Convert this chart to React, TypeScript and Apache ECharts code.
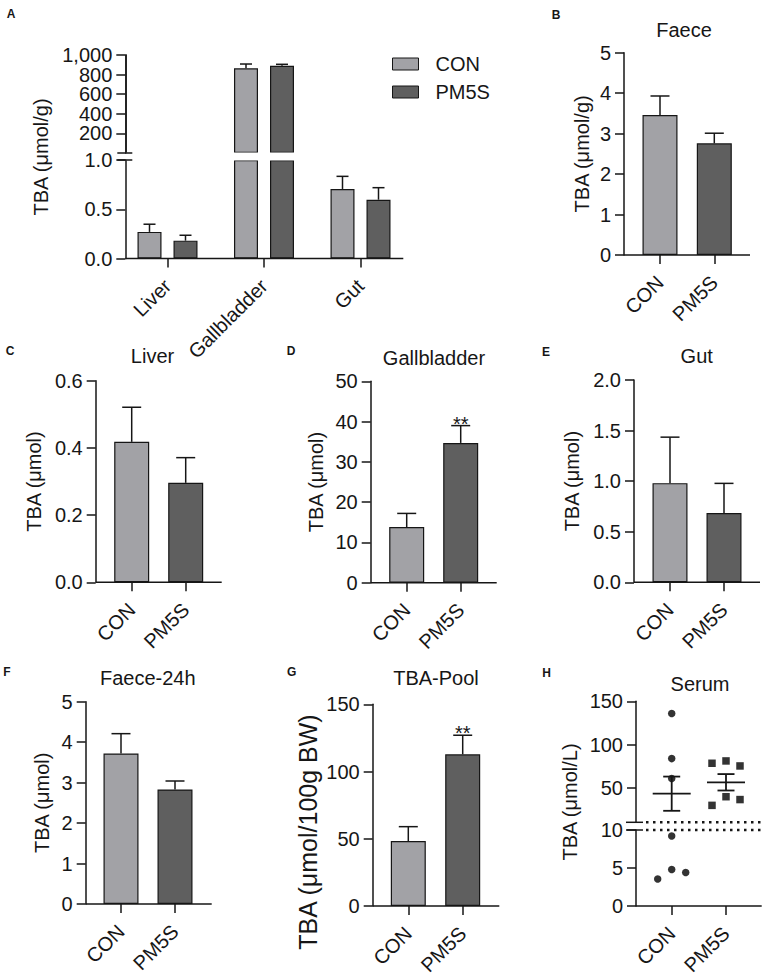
import React, { useEffect, useRef } from 'react';
import * as echarts from 'echarts';

// ---------- data ----------
const GROUPS = ['CON', 'PM5S'];

// A: TBA (μmol/g) by organ
const A_ORGANS = ['Liver', 'Gallbladder', 'Gut'];
const A_CON_MEAN = [0.27, 864, 0.706];
const A_CON_SEM = [0.078, 44, 0.128];
const A_PM5S_MEAN = [0.181, 891, 0.597];
const A_PM5S_SEM = [0.055, 14, 0.122];
const A_UPPER_TICKS_ODD = [200, 600, 1000];
const A_UPPER_TICKS_EVEN = [400, 800];
const A_LOWER_TICKS = [0, 0.5, 1.0];
const A_LOWER_MAX = 1;

// B: Faece
const B_MEAN = [3.46, 2.76];
const B_SEM = [0.47, 0.25];
const B_TICKS = [0, 1, 2, 3, 4, 5];
// C: Liver
const C_MEAN = [0.418, 0.296];
const C_SEM = [0.103, 0.075];
const C_TICKS = [0, 0.2, 0.4, 0.6];
// D: Gallbladder
const D_MEAN = [13.8, 34.7];
const D_SEM = [3.4, 4.3];
const D_SIG = ['', '**'];
const D_TICKS = [0, 10, 20, 30, 40, 50];
// E: Gut
const E_MEAN = [0.98, 0.685];
const E_SEM = [0.455, 0.293];
const E_TICKS = [0, 0.5, 1.0, 1.5, 2.0];
// F: Faece-24h
const F_MEAN = [3.72, 2.83];
const F_SEM = [0.49, 0.21];
const F_TICKS = [0, 1, 2, 3, 4, 5];
// G: TBA-Pool
const G_MEAN = [48.3, 112.8];
const G_SEM = [10.7, 14.2];
const G_SIG = ['', '**'];
const G_TICKS = [0, 50, 100, 150];
// H: Serum (individual points, mean ± SEM)
const H_CON = [135.8, 83.7, 60.6, 9.2, 4.8, 3.55, 4.4];
const H_PM5S = [78.3, 81, 75.2, 29.6, 39.6, 36.3];
const H_MEAN = [43.1, 56.3];
const H_SEM = [19.8, 9.5];
const H_UPPER_TICKS = [50, 100, 150];
const H_LOWER_TICKS = [0, 5, 10];
const H_BREAK = 10;

// ---------- style ----------
const FONT = "'Liberation Sans', Arial, Helvetica, sans-serif";
const INK = '#161616';
const CON_COLOR = '#a2a2a6';
const PM_COLOR = '#5f5f5f';
const GROUP_COLORS = [CON_COLOR, PM_COLOR];
const AXIS_W = 1.5;
const FS = 20;

function buildOption() {
  const grid: any[] = [];
  const xAxis: any[] = [];
  const yAxis: any[] = [];
  const series: any[] = [];
  const graphic: any[] = [];
  const axisLineStyle = { color: INK, width: AXIS_W };
  const labelStyle = { fontSize: FS, color: INK, fontFamily: FONT };

  const addGrid = (left: number, right: number, top: number, bottom: number) => {
    grid.push({ left, top, width: right - left, height: bottom - top });
    return grid.length - 1;
  };
  const addXAxis = (gi: number, cats: string[], show: boolean) => {
    xAxis.push({
      type: 'category', gridIndex: gi, data: cats, boundaryGap: false, position: 'bottom',
      axisLine: { show: false },
      axisTick: show ? { show: true, length: 9, interval: 0, lineStyle: axisLineStyle } : { show: false },
      axisLabel: show ? { show: true, interval: 0, rotate: 45, margin: 24, ...labelStyle } : { show: false },
      splitLine: { show: false },
    });
    return xAxis.length - 1;
  };
  const addYAxis = (gi: number, min: number, max: number, ticks: number[], fmt: (v: number) => string,
    offset: number, name?: string, nameGap?: number) => {
    yAxis.push({
      type: 'value', gridIndex: gi, min, max, offset, position: 'left',
      axisLine: { show: true, onZero: false, lineStyle: axisLineStyle },
      axisTick: { show: true, length: 9, lineStyle: axisLineStyle, customValues: ticks },
      axisLabel: {
        show: true, margin: 13, formatter: fmt, customValues: ticks,
        showMinLabel: true, showMaxLabel: true, hideOverlap: false, ...labelStyle,
      },
      splitLine: { show: false },
      name, nameLocation: 'middle', nameGap, nameTextStyle: { ...labelStyle },
    });
    return yAxis.length - 1;
  };
  const line = (x1: number, y1: number, x2: number, y2: number, extra: any = {}) => ({
    type: 'line', silent: true, z: 50, shape: { x1, y1, x2, y2 },
    style: { stroke: INK, lineWidth: AXIS_W, ...extra },
  });
  const text = (t: string, x: number, y: number, size: number, bold = false, rotation = 0) => ({
    type: 'text', silent: true, z: 50, x, y, rotation,
    style: {
      text: t, fontSize: size, fontFamily: FONT, fontWeight: bold ? 'bold' : 'normal', fill: INK,
      align: 'center', verticalAlign: 'middle', textAlign: 'center', textVerticalAlign: 'middle',
    },
  });
  const errorSeries = (xi: number, yi: number, rows: number[][], offsetPx: number, cap: number, sig?: string[]) => ({
    type: 'custom', xAxisIndex: xi, yAxisIndex: yi, z: 3, clip: false,
    data: rows,
    renderItem: (params: any, api: any) => {
      const i = api.value(0);
      const p0 = api.coord([i, api.value(1)]);
      const p1 = api.coord([i, api.value(2)]);
      const x = p0[0] + offsetPx;
      const children: any[] = [
        { type: 'line', shape: { x1: x, y1: p0[1], x2: x, y2: p1[1] }, style: { stroke: INK, lineWidth: 1.5 } },
        { type: 'line', shape: { x1: x - cap / 2, y1: p1[1], x2: x + cap / 2, y2: p1[1] }, style: { stroke: INK, lineWidth: 1.5 } },
      ];
      const idx = rows[params.dataIndex][3];
      const s = sig ? sig[idx] : '';
      if (s) {
        children.push({
          type: 'text', x, y: p1[1] - 2,
          style: { text: s, fontSize: FS, fontFamily: FONT, fill: INK, align: 'center', verticalAlign: 'middle', textAlign: 'center', textVerticalAlign: 'middle' },
        });
      }
      return { type: 'group', children };
    },
  });

  // ---------- simple two-bar panels ----------
  const barPanel = (p: any) => {
    const gi = addGrid(p.c1, p.c2, p.yTop, p.yBot);
    const xi = addXAxis(gi, GROUPS, true);
    const yName = 'TBA (μmol' + p.unit + ')';
    const yi = addYAxis(gi, p.ticks[0], p.ticks[p.ticks.length - 1], p.ticks, p.fmt, p.c1 - p.x0,
      p.nameAt ? undefined : yName, p.nameGap);
    if (p.nameAt) graphic.push(text(yName, p.nameAt[0], p.nameAt[1], p.nameAt[2], false, Math.PI / 2));
    series.push({
      type: 'bar', name: p.title, xAxisIndex: xi, yAxisIndex: yi, barWidth: 35, clip: false, z: 2,
      itemStyle: { borderColor: INK, borderWidth: 1.2 },
      data: p.mean.map((v: number, i: number) => ({ value: v, itemStyle: { color: GROUP_COLORS[i] } })),
    });
    series.push(errorSeries(xi, yi, p.mean.map((m: number, i: number) => [i, m, m + p.sem[i], i]), 0, 19, p.sig));
    graphic.push(line(p.x0, p.yBot, p.xEnd, p.yBot));
    graphic.push(text(p.title, p.tx, p.ty, FS));
    graphic.push(text(p.letter, p.lx, p.ly, 12, true));
  };
  const f1 = (v: number) => v.toFixed(1);
  const f0 = (v: number) => String(v);
  const fThousands = (v: number) => v.toLocaleString('en-US');

  barPanel({ x0: 624, c1: 660, c2: 714.3, xEnd: 750, yTop: 52.7, yBot: 255, ticks: B_TICKS, fmt: f0, unit: '/g', nameGap: 32,
    mean: B_MEAN, sem: B_SEM, title: 'Faece', tx: 684, ty: 30, letter: 'B', lx: 556, ly: 15 });
  barPanel({ x0: 95.7, c1: 131.7, c2: 185.7, xEnd: 221.7, yTop: 380.7, yBot: 582.3, ticks: C_TICKS, fmt: f1, unit: '', nameGap: 52,
    mean: C_MEAN, sem: C_SEM, title: 'Liver', tx: 152.5, ty: 356, letter: 'C', lx: 10, ly: 351 });
  barPanel({ x0: 370.7, c1: 406.7, c2: 460.7, xEnd: 496.7, yTop: 381.3, yBot: 582.7, ticks: D_TICKS, fmt: f0, unit: '', nameGap: 45,
    mean: D_MEAN, sem: D_SEM, sig: D_SIG, title: 'Gallbladder', tx: 434, ty: 357.7, letter: 'D', lx: 291, ly: 351 });
  barPanel({ x0: 634, c1: 670, c2: 724, xEnd: 760, yTop: 380, yBot: 582.3, ticks: E_TICKS, fmt: f1, unit: '', nameGap: 52,
    mean: E_MEAN, sem: E_SEM, title: 'Gut', tx: 696.7, ty: 355.7, letter: 'E', lx: 546, ly: 351.7 });
  barPanel({ x0: 85.7, c1: 121, c2: 175, xEnd: 211.7, yTop: 701.7, yBot: 904, ticks: F_TICKS, fmt: f0, unit: '', nameGap: 34,
    mean: F_MEAN, sem: F_SEM, title: 'Faece-24h', tx: 147.8, ty: 678.3, letter: 'F', lx: 7, ly: 672 });
  barPanel({ x0: 372.7, c1: 408.3, c2: 462.7, xEnd: 499.3, yTop: 704.3, yBot: 906, ticks: G_TICKS, fmt: f0, unit: '/100g BW',
    nameAt: [307.5, 832, 25],
    mean: G_MEAN, sem: G_SEM, sig: G_SIG, title: 'TBA-Pool', tx: 436, ty: 678.3, letter: 'G', lx: 291.7, ly: 671.7 });

  // ---------- panel A (broken axis, grouped bars) ----------
  {
    const x0 = 125.3, c1 = 167.5, c2 = 360.5, xEnd = 403.3;
    const uTop = 55, uBot = 153, lTop = 160, lBot = 258.5;
    const BW = 24;
    const off = (BW + BW * 0.5) / 2;
    const gU = addGrid(c1, c2, uTop, uBot);
    const xU = addXAxis(gU, A_ORGANS, false);
    const yU = addYAxis(gU, 0, 1000, A_UPPER_TICKS_ODD, fThousands, c1 - x0);
    addYAxis(gU, 0, 1000, A_UPPER_TICKS_EVEN, fThousands, c1 - x0);
    const gL = addGrid(c1, c2, lTop, lBot);
    const xL = addXAxis(gL, A_ORGANS, true);
    const yL = addYAxis(gL, 0, A_LOWER_MAX, A_LOWER_TICKS, f1, c1 - x0);
    const groups = [
      { name: 'CON', mean: A_CON_MEAN, sem: A_CON_SEM, color: CON_COLOR, sign: -1 },
      { name: 'PM5S', mean: A_PM5S_MEAN, sem: A_PM5S_SEM, color: PM_COLOR, sign: 1 },
    ];
    groups.forEach((g) => {
      series.push({
        type: 'bar', name: g.name, xAxisIndex: xL, yAxisIndex: yL, barWidth: BW, barGap: '50%', clip: false, z: 2,
        itemStyle: { color: g.color, borderColor: INK, borderWidth: 1.2 },
        data: g.mean.map((v) => Math.min(v, A_LOWER_MAX)),
      });
      series.push({
        type: 'bar', name: g.name, xAxisIndex: xU, yAxisIndex: yU, barWidth: BW, barGap: '50%', clip: false, z: 2,
        itemStyle: { color: g.color, borderColor: INK, borderWidth: 1.2 },
        data: g.mean.map((v) => (v > A_LOWER_MAX ? v : '-')),
      });
    });
    groups.forEach((g) => {
      const rows = g.mean.map((m, i) => [i, m, m + g.sem[i], i]);
      series.push(errorSeries(xL, yL, rows.filter((r) => r[1] <= A_LOWER_MAX), g.sign * off, 12));
      series.push(errorSeries(xU, yU, rows.filter((r) => r[1] > A_LOWER_MAX), g.sign * off, 12));
    });
    // break band and marks
    graphic.push({ type: 'rect', silent: true, z: 40, shape: { x: x0 + 1, y: uBot - 0.6, width: xEnd - x0, height: lTop - uBot + 1.2 }, style: { fill: '#fff' } });
    graphic.push(line(x0 - 8, uBot, x0 + 7, uBot));
    graphic.push(line(x0 - 8, lTop, x0 + 7, lTop));
    graphic.push(line(x0, lBot, xEnd, lBot));
    graphic.push(text('TBA (μmol/g)', 41, 157, FS, false, Math.PI / 2));
    graphic.push(text('A', 11, 14, 12, true));
  }

  // ---------- panel H (broken axis, scatter) ----------
  {
    const x0 = 636, c1 = 671.7, c2 = 726, xEnd = 761.7;
    const uTop = 701.3, uBot = 822.3, lTop = 830, lBot = 906;
    const gU = addGrid(c1, c2, uTop, uBot);
    const xU = addXAxis(gU, GROUPS, false);
    const yU = addYAxis(gU, H_BREAK, 150, H_UPPER_TICKS, f0, c1 - x0);
    const gL = addGrid(c1, c2, lTop, lBot);
    const xL = addXAxis(gL, GROUPS, true);
    const yL = addYAxis(gL, 0, H_BREAK, H_LOWER_TICKS, f0, c1 - x0);
    const jitterCon = [0, 0, 0, 0, 0, -14, 14];
    const jitterPm = [-14, 0, 14, -14, 0, 14];
    const pts = (vals: number[], gi: number, jit: number[], upper: boolean) =>
      vals
        .map((v, k) => ({ value: [gi, v], symbolOffset: [jit[k], 0] }))
        .filter((d) => (upper ? d.value[1] >= H_BREAK : d.value[1] < H_BREAK));
    [true, false].forEach((upper) => {
      const xi = upper ? xU : xL;
      const yi = upper ? yU : yL;
      series.push({ type: 'scatter', xAxisIndex: xi, yAxisIndex: yi, clip: false, symbol: 'circle', symbolSize: 7.5, z: 4,
        itemStyle: { color: '#000' }, data: pts(H_CON, 0, jitterCon, upper) });
      series.push({ type: 'scatter', xAxisIndex: xi, yAxisIndex: yi, clip: false, symbol: 'rect', symbolSize: 7.5, z: 4,
        itemStyle: { color: '#000' }, data: pts(H_PM5S, 1, jitterPm, upper) });
    });
    series.push({
      type: 'custom', xAxisIndex: xU, yAxisIndex: yU, z: 5, clip: false,
      data: H_MEAN.map((m, i) => [i, m, m - H_SEM[i], m + H_SEM[i]]),
      renderItem: (_p: any, api: any) => {
        const i = api.value(0);
        const pm = api.coord([i, api.value(1)]);
        const plo = api.coord([i, api.value(2)]);
        const phi = api.coord([i, api.value(3)]);
        const x = pm[0];
        const st = { stroke: INK, lineWidth: 1.8 };
        return {
          type: 'group', children: [
            { type: 'line', shape: { x1: x - 19, y1: pm[1], x2: x + 19, y2: pm[1] }, style: st },
            { type: 'line', shape: { x1: x, y1: plo[1], x2: x, y2: phi[1] }, style: st },
            { type: 'line', shape: { x1: x - 8.5, y1: plo[1], x2: x + 8.5, y2: plo[1] }, style: st },
            { type: 'line', shape: { x1: x - 8.5, y1: phi[1], x2: x + 8.5, y2: phi[1] }, style: st },
          ],
        };
      },
    });
    graphic.push(line(x0, lBot, xEnd, lBot));
    graphic.push(line(x0 - 10, uBot, x0 + 7, uBot));
    graphic.push(line(x0 - 10, lTop, x0 + 7, lTop));
    graphic.push(line(x0 + 10, uBot, xEnd, uBot, { lineDash: [2.5, 4.5], lineWidth: 2.5 }));
    graphic.push(line(x0 + 10, lTop, xEnd, lTop, { lineDash: [2.5, 4.5], lineWidth: 2.5 }));
    graphic.push(text('TBA (μmol/L)', 570, 802, FS, false, Math.PI / 2));
    graphic.push(text('Serum', 700, 684.3, FS));
    graphic.push(text('H', 546.7, 673.3, 12, true));
  }

  return {
    animation: false,
    backgroundColor: '#fff',
    textStyle: { fontFamily: FONT },
    grid, xAxis, yAxis, series, graphic,
    legend: {
      orient: 'vertical', left: 392, top: 54, padding: 0, itemWidth: 26, itemHeight: 12, itemGap: 8,
      icon: 'rect', selectedMode: false,
      data: [
        { name: 'CON', itemStyle: { color: CON_COLOR, borderColor: INK, borderWidth: 1 } },
        { name: 'PM5S', itemStyle: { color: PM_COLOR, borderColor: INK, borderWidth: 1 } },
      ],
      textStyle: { fontSize: FS, color: INK, fontFamily: FONT, padding: [0, 0, 0, 12] },
    },
  };
}

export default function App() {
  const ref = useRef<HTMLDivElement>(null);
  useEffect(() => {
    const chart = echarts.init(ref.current!, null, { renderer: 'svg' });
    chart.setOption(buildOption() as any);
    return () => chart.dispose();
  }, []);
  return (
    <div
      ref={ref}
      style={{ position: 'absolute', left: 0, top: 0, width: 767, height: 978, background: '#fff' }}
    />
  );
}
